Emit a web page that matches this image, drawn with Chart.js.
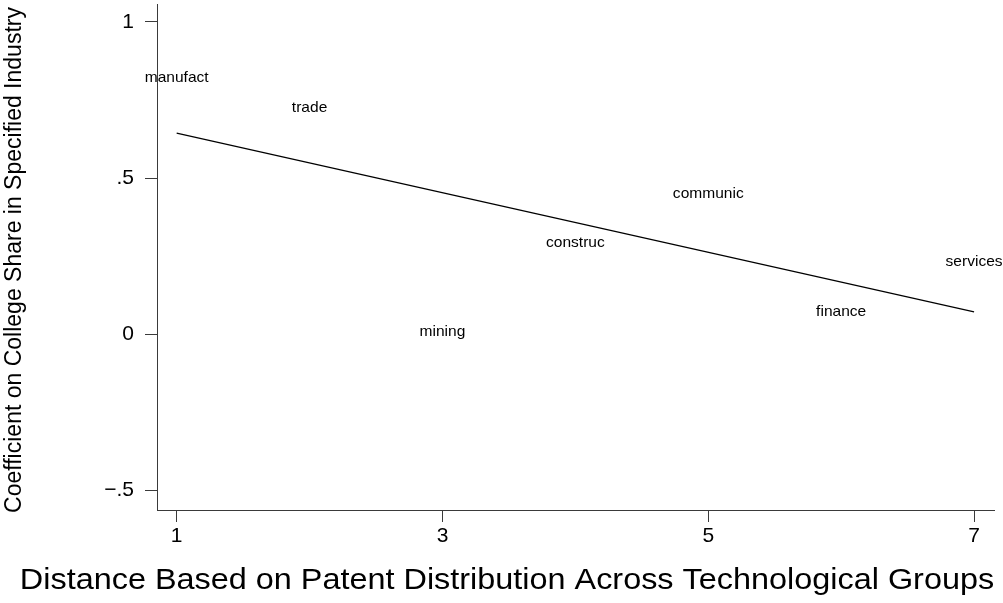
<!DOCTYPE html>
<html>
<head>
<meta charset="utf-8">
<script src="https://cdn.jsdelivr.net/npm/chart.js@4.4.1/dist/chart.umd.min.js"></script>
<style>
  html, body { margin: 0; padding: 0; background: #fff; }
  #wrap { width: 1003px; height: 603px; position: relative; }
</style>
</head>
<body>
<div id="wrap"><canvas id="c" width="1003" height="603"></canvas></div>
<script>
// Industry coefficients against technological distance
const industries  = ['manufact', 'trade', 'mining', 'construc', 'communic', 'finance', 'services'];
const distance    = [1, 2, 3, 4, 5, 6, 7];
const coefficient = [0.823, 0.725, 0.008, 0.293, 0.452, 0.072, 0.234];

// Fitted line end points
const fitX = [1, 7];
const fitY = [0.644, 0.072];

// Axis ticks
const xTicks = [1, 3, 5, 7];
const yTicks = [-0.5, 0, 0.5, 1];
const yTickLabels = ['\u2212.5', '0', '.5', '1'];

const xTitle = 'Distance Based on Patent Distribution Across Technological Groups';
const yTitle = 'Coefficient on College Share in Specified Industry';

const FONT = '"Liberation Sans", Arial, Helvetica, sans-serif';
const STRETCH = 1.08;   // text is drawn slightly wide
const AXIS_COLOR = '#3a3a3a';

// Industry names drawn centred on each point
const markerLabels = {
  id: 'markerLabels',
  afterDatasetsDraw(chart) {
    const ctx = chart.ctx;
    const meta = chart.getDatasetMeta(0);
    ctx.save();
    ctx.fillStyle = '#000';
    ctx.font = '14.4px ' + FONT;
    ctx.textAlign = 'center';
    ctx.textBaseline = 'middle';
    meta.data.forEach((pt, i) => {
      ctx.save();
      ctx.translate(pt.x, pt.y + 0.5);
      ctx.scale(STRETCH, 1);
      ctx.fillText(industries[i], 0, 0);
      ctx.restore();
    });
    ctx.restore();
  }
};

// Axis titles
const axisTitles = {
  id: 'axisTitles',
  afterDraw(chart) {
    const ctx = chart.ctx;
    const y = chart.scales.y;
    ctx.save();
    ctx.fillStyle = '#000';
    ctx.textAlign = 'center';
    ctx.textBaseline = 'middle';

    ctx.save();
    ctx.font = '30px ' + FONT;
    ctx.translate(507, 581);
    ctx.scale(STRETCH, 1);
    ctx.fillText(xTitle, 0, 0);
    ctx.restore();

    ctx.save();
    ctx.font = '23px ' + FONT;
    ctx.translate(14, (y.top + y.bottom) / 2 + 3);
    ctx.scale(STRETCH, 1);
    ctx.rotate(-Math.PI / 2);
    ctx.fillText(yTitle, 0, 0);
    ctx.restore();

    ctx.restore();
  }
};

const axisCommon = {
  grid: {
    display: true,
    drawOnChartArea: false,
    drawTicks: true,
    tickLength: 12,
    color: AXIS_COLOR,
    lineWidth: 1
  },
  border: { display: true, color: AXIS_COLOR, width: 1 }
};

new Chart(document.getElementById('c'), {
  type: 'scatter',
  data: {
    datasets: [
      {
        label: 'industries',
        data: distance.map((d, i) => ({ x: d, y: coefficient[i] })),
        pointRadius: 0,
        pointHoverRadius: 0,
        showLine: false
      },
      {
        label: 'fit',
        data: fitX.map((d, i) => ({ x: d, y: fitY[i] })),
        showLine: true,
        borderColor: '#000',
        borderWidth: 1.2,
        pointRadius: 0,
        pointHoverRadius: 0,
        fill: false
      }
    ]
  },
  options: {
    responsive: false,
    animation: false,
    devicePixelRatio: 1,
    layout: { padding: { top: 4, right: 9, left: 0, bottom: 0 } },
    plugins: {
      legend: { display: false },
      tooltip: { enabled: false },
      title: { display: false }
    },
    scales: {
      x: Object.assign({}, axisCommon, {
        type: 'linear',
        min: 0.852,
        max: 7.15,
        afterBuildTicks: s => { s.ticks = xTicks.map(v => ({ value: v })); },
        afterFit: s => { s.height = 93; s.paddingLeft = 0; s.paddingRight = 0; },
        ticks: {
          color: '#000',
          font: { family: FONT, size: 21 },
          padding: 2,
          maxRotation: 0,
          autoSkip: false,
          callback: v => String(v)
        }
      }),
      y: Object.assign({}, axisCommon, {
        type: 'linear',
        min: -0.5626,
        max: 1.0576,
        afterBuildTicks: s => { s.ticks = yTicks.map(v => ({ value: v })); },
        afterFit: s => { s.width = 157; s.paddingTop = 0; s.paddingBottom = 0; },
        ticks: {
          color: '#000',
          font: { family: FONT, size: 21 },
          padding: 11,
          autoSkip: false,
          callback: v => {
            const k = yTicks.findIndex(t => Math.abs(t - v) < 1e-9);
            return k >= 0 ? yTickLabels[k] : '';
          }
        }
      })
    }
  },
  plugins: [markerLabels, axisTitles]
});
</script>
</body>
</html>
